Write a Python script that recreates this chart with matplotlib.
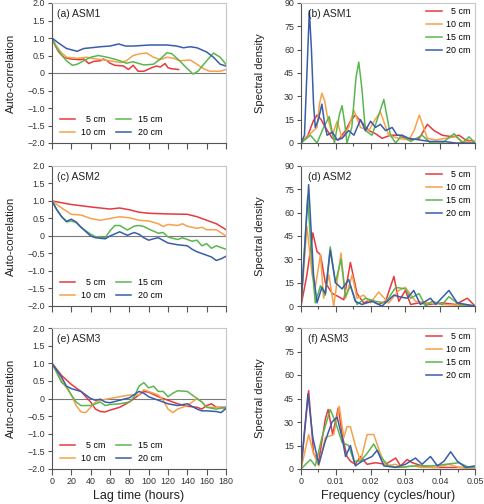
import numpy as np
import matplotlib.pyplot as plt
from matplotlib.ticker import MultipleLocator

plt.rcParams['font.family'] = ['Liberation Sans', 'DejaVu Sans']

depths = ['  5 cm', '10 cm', '15 cm', '20 cm']
colors = ['#e63a3f', '#f4a24c', '#5bb650', '#3a5dab']
sites = ['ASM1', 'ASM2', 'ASM3']

# ---- auto-correlation, ASM1 ----
a1_lag_5 = [0, 3, 7, 12, 19, 29, 33, 38, 43, 50, 53, 57, 60, 65, 74, 79, 84, 89, 95, 103, 108, 112, 117, 120, 124, 131]
a1_acf_5 = [1.0, 0.8, 0.6, 0.45, 0.4, 0.38, 0.4, 0.27, 0.33, 0.35, 0.4, 0.35, 0.28, 0.22, 0.2, 0.1, 0.22, 0.05, 0.05, 0.15, 0.2, 0.17, 0.27, 0.15, 0.12, 0.1]
a1_lag_10 = [0, 4, 9, 15, 26, 36, 46, 60, 71, 77, 84, 91, 98, 105, 112, 119, 126, 132, 143, 150, 157, 163, 174, 180]
a1_acf_10 = [1.0, 0.8, 0.6, 0.45, 0.42, 0.45, 0.4, 0.35, 0.3, 0.35, 0.5, 0.55, 0.57, 0.45, 0.38, 0.45, 0.42, 0.35, 0.37, 0.25, 0.12, 0.05, 0.05, 0.1]
a1_lag_15 = [0, 4, 9, 15, 21, 26, 33, 40, 48, 57, 67, 77, 84, 95, 105, 112, 119, 124, 132, 139, 146, 151, 160, 167, 174, 180]
a1_acf_15 = [1.0, 0.75, 0.55, 0.35, 0.22, 0.25, 0.35, 0.45, 0.5, 0.45, 0.38, 0.28, 0.32, 0.23, 0.25, 0.4, 0.58, 0.55, 0.35, 0.15, -0.03, 0.05, 0.35, 0.57, 0.45, 0.25]
a1_lag_20 = [0, 7, 15, 26, 33, 40, 50, 60, 69, 76, 84, 101, 119, 129, 136, 143, 150, 160, 167, 174, 180]
a1_acf_20 = [1.0, 0.85, 0.7, 0.62, 0.7, 0.72, 0.75, 0.77, 0.83, 0.77, 0.77, 0.8, 0.8, 0.77, 0.72, 0.75, 0.72, 0.6, 0.45, 0.25, 0.2]

# ---- auto-correlation, ASM2 ----
a2_lag_5 = [0, 20, 40, 60, 70, 80, 90, 100, 120, 140, 150, 160, 170, 180]
a2_acf_5 = [1.0, 0.9, 0.83, 0.77, 0.8, 0.75, 0.68, 0.65, 0.63, 0.62, 0.55, 0.45, 0.35, 0.18]
a2_lag_10 = [0, 10, 20, 30, 40, 50, 60, 70, 80, 90, 100, 110, 115, 120, 130, 135, 140, 150, 155, 160, 170, 180]
a2_acf_10 = [1.0, 0.8, 0.62, 0.6, 0.5, 0.45, 0.5, 0.55, 0.52, 0.45, 0.43, 0.35, 0.27, 0.33, 0.3, 0.35, 0.28, 0.22, 0.25, 0.18, 0.18, 0.0]
a2_lag_15 = [0, 5, 10, 15, 20, 25, 30, 40, 45, 55, 60, 65, 70, 78, 85, 90, 95, 100, 110, 115, 120, 130, 135, 140, 145, 150, 155, 160, 165, 170, 180]
a2_acf_15 = [1.0, 0.75, 0.55, 0.4, 0.43, 0.38, 0.25, 0.05, -0.02, -0.05, 0.15, 0.3, 0.3, 0.17, 0.28, 0.3, 0.27, 0.2, 0.08, 0.1, -0.03, -0.1, -0.05, -0.1, -0.15, -0.12, -0.28, -0.22, -0.35, -0.28, -0.38]
a2_lag_20 = [0, 5, 10, 15, 20, 25, 30, 40, 45, 55, 60, 70, 78, 85, 90, 95, 100, 105, 110, 120, 130, 140, 145, 150, 160, 165, 170, 175, 180]
a2_acf_20 = [1.0, 0.75, 0.55, 0.42, 0.48, 0.4, 0.25, 0.0, -0.05, -0.08, 0.0, 0.12, 0.02, 0.1, 0.05, -0.05, -0.12, -0.08, -0.05, -0.2, -0.25, -0.28, -0.38, -0.45, -0.55, -0.6, -0.7, -0.65, -0.58]

# ---- auto-correlation, ASM3 ----
a3_lag_5 = [0, 10, 20, 30, 40, 45, 50, 55, 60, 70, 80, 90, 95, 100, 110, 120, 130, 140, 150, 155, 160, 165, 170, 180]
a3_acf_5 = [1.0, 0.65, 0.4, 0.2, -0.1, -0.3, -0.37, -0.38, -0.33, -0.25, -0.1, 0.1, 0.2, 0.18, 0.05, -0.05, -0.15, -0.22, -0.25, -0.3, -0.2, -0.15, -0.25, -0.25]
a3_lag_10 = [0, 10, 20, 25, 30, 35, 40, 45, 50, 60, 70, 80, 90, 95, 100, 110, 115, 120, 125, 130, 140, 150, 155, 160, 170, 180]
a3_acf_10 = [1.0, 0.5, 0.1, -0.2, -0.38, -0.4, -0.25, -0.1, -0.05, 0.0, 0.05, 0.1, 0.1, 0.25, 0.2, 0.1, -0.05, -0.3, -0.4, -0.3, -0.2, 0.0, -0.1, -0.25, -0.25, -0.3]
a3_lag_15 = [0, 10, 15, 20, 25, 30, 40, 50, 55, 60, 70, 80, 85, 90, 95, 100, 105, 110, 115, 120, 125, 130, 140, 145, 150, 155, 160, 170, 180]
a3_acf_15 = [1.0, 0.45, 0.35, 0.1, -0.1, -0.2, -0.2, -0.1, -0.2, -0.17, -0.15, -0.1, 0.05, 0.35, 0.45, 0.3, 0.35, 0.2, 0.2, 0.05, 0.15, 0.22, 0.2, 0.1, 0.0, -0.1, -0.25, -0.3, -0.25]
a3_lag_20 = [0, 10, 15, 20, 30, 40, 45, 50, 55, 60, 70, 80, 90, 95, 100, 110, 120, 130, 140, 150, 155, 160, 170, 175, 180]
a3_acf_20 = [1.0, 0.6, 0.35, 0.28, 0.2, 0.0, -0.05, -0.02, -0.1, -0.12, -0.05, 0.02, 0.2, 0.15, 0.05, -0.05, -0.15, -0.2, -0.15, -0.3, -0.35, -0.35, -0.37, -0.4, -0.28]

# ---- spectral density, ASM1 ----
s1_f_5 = [0, 0.002, 0.0035, 0.0046, 0.0058, 0.007, 0.009, 0.0108, 0.0128, 0.0142, 0.0156, 0.0176, 0.0195, 0.0214, 0.0233, 0.0257, 0.028, 0.031, 0.034, 0.0363, 0.0382, 0.0406, 0.0435, 0.0454, 0.0473, 0.05]
s1_d_5 = [0, 5, 14, 18, 15, 10, 3, 2, 8, 14, 18, 13, 8, 6, 3, 5, 5, 2, 3, 12, 8, 5, 4, 5, 2, 1]
s1_f_10 = [0, 0.0022, 0.0046, 0.0053, 0.006, 0.0068, 0.0075, 0.009, 0.0104, 0.0118, 0.0137, 0.0152, 0.0171, 0.0195, 0.021, 0.0228, 0.0252, 0.028, 0.031, 0.0325, 0.034, 0.0363, 0.0387, 0.0415, 0.0444, 0.0464, 0.05]
s1_d_10 = [0, 5, 10, 25, 32, 27, 18, 5, 14, 3, 10, 21, 10, 8, 14, 20, 5, 3, 2, 8, 18, 3, 2, 3, 4, 1, 1]
s1_f_15 = [0, 0.0027, 0.0046, 0.0065, 0.0081, 0.0096, 0.011, 0.0118, 0.0126, 0.0132, 0.0146, 0.0158, 0.0166, 0.0175, 0.0185, 0.0204, 0.0219, 0.0238, 0.0257, 0.0272, 0.029, 0.0315, 0.0348, 0.0372, 0.0406, 0.044, 0.0464, 0.0483, 0.05]
s1_d_15 = [0, 5, 0, 10, 17, 0, 18, 24, 12, 0, 10, 42, 52, 35, 8, 5, 15, 28, 5, 0, 5, 1, 5, 0, 0, 6, 0, 4, 0]
s1_f_20 = [0, 0.001, 0.0017, 0.0024, 0.003, 0.0036, 0.0041, 0.005, 0.006, 0.0068, 0.0075, 0.009, 0.0104, 0.0118, 0.0137, 0.0152, 0.0171, 0.0185, 0.02, 0.0214, 0.0228, 0.0243, 0.0262, 0.0276, 0.029, 0.031, 0.034, 0.037, 0.041, 0.0444, 0.05]
s1_d_20 = [0, 5, 45, 85, 60, 25, 10, 15, 25, 12, 5, 7, 2, 3, 8, 5, 15, 8, 14, 10, 12, 8, 10, 5, 5, 3, 2, 1, 1, 0, 0]

# ---- spectral density, ASM2 ----
s2_f_5 = [0, 0.0017, 0.0034, 0.0046, 0.0056, 0.007, 0.009, 0.0108, 0.0123, 0.0142, 0.0161, 0.018, 0.02, 0.0223, 0.0243, 0.0267, 0.0281, 0.03, 0.0315, 0.0339, 0.0368, 0.0406, 0.0444, 0.0478, 0.05]
s2_d_5 = [0, 20, 47, 35, 33, 15, 8, 6, 4, 28, 8, 2, 4, 1, 3, 19, 3, 10, 1, 2, 1, 2, 1, 5, 0]
s2_f_10 = [0, 0.0017, 0.0032, 0.0041, 0.0056, 0.0065, 0.008, 0.0094, 0.0115, 0.0128, 0.0147, 0.0161, 0.018, 0.02, 0.0223, 0.0252, 0.0281, 0.03, 0.0329, 0.0368, 0.0406, 0.05]
s2_d_10 = [0, 51, 20, 12, 33, 5, 20, 0, 34, 5, 20, 5, 7, 2, 9, 2, 10, 12, 3, 2, 1, 0]
s2_f_15 = [0, 0.0019, 0.0034, 0.0041, 0.0056, 0.007, 0.0084, 0.0099, 0.0115, 0.0128, 0.0142, 0.0161, 0.0185, 0.0214, 0.0243, 0.0272, 0.03, 0.0315, 0.0339, 0.0358, 0.0377, 0.0406, 0.0425, 0.0454, 0.05]
s2_d_15 = [0, 70, 20, 2, 13, 7, 38, 15, 30, 6, 13, 1, 5, 3, 2, 12, 11, 5, 8, 0, 3, 1, 6, 1, 0]
s2_f_20 = [0, 0.0022, 0.0036, 0.0046, 0.006, 0.007, 0.0084, 0.0099, 0.0118, 0.0137, 0.0156, 0.0175, 0.0204, 0.0233, 0.0267, 0.0281, 0.0305, 0.0324, 0.0343, 0.0372, 0.0387, 0.0425, 0.0449, 0.05]
s2_d_20 = [0, 78, 20, 2, 12, 8, 36, 15, 11, 17, 3, 1, 3, 0, 7, 6, 5, 10, 1, 5, 1, 10, 2, 0]

# ---- spectral density, ASM3 ----
s3_f_5 = [0, 0.0022, 0.0036, 0.0051, 0.007, 0.0078, 0.0091, 0.0107, 0.012, 0.0132, 0.0142, 0.0156, 0.0171, 0.019, 0.0214, 0.0243, 0.0272, 0.0286, 0.0305, 0.032, 0.0348, 0.0377, 0.0416, 0.0454, 0.05]
s3_d_5 = [0, 50, 10, 5, 32, 38, 22, 39, 20, 8, 5, 3, 8, 3, 4, 3, 7, 2, 6, 4, 2, 1, 1, 1, 1]
s3_f_10 = [0, 0.0022, 0.0036, 0.0051, 0.007, 0.0094, 0.011, 0.0123, 0.0132, 0.0142, 0.0156, 0.0171, 0.019, 0.0209, 0.0228, 0.0243, 0.0272, 0.029, 0.032, 0.0348, 0.0387, 0.0425, 0.0454, 0.05]
s3_d_10 = [0, 22, 10, 2, 20, 22, 40, 20, 27, 27, 15, 5, 22, 22, 10, 2, 3, 1, 2, 1, 1, 3, 1, 0]
s3_f_15 = [0, 0.0027, 0.0041, 0.006, 0.0084, 0.0099, 0.0118, 0.0137, 0.0152, 0.0171, 0.019, 0.0209, 0.0228, 0.0252, 0.028, 0.0329, 0.0377, 0.0416, 0.0454, 0.0483, 0.05]
s3_d_15 = [0, 6, 2, 20, 38, 30, 17, 15, 5, 5, 10, 16, 8, 2, 1, 2, 2, 3, 4, 1, 1]
s3_f_20 = [0, 0.002, 0.0034, 0.0051, 0.007, 0.0089, 0.0104, 0.0118, 0.0128, 0.0142, 0.0156, 0.0176, 0.0204, 0.0219, 0.0238, 0.0272, 0.03, 0.0329, 0.0348, 0.0372, 0.0392, 0.0411, 0.043, 0.0449, 0.0473, 0.05]
s3_d_20 = [0, 48, 20, 3, 18, 30, 33, 20, 8, 15, 2, 5, 8, 12, 2, 1, 3, 7, 3, 8, 2, 5, 11, 5, 1, 2]

acf = [
    [(a1_lag_5, a1_acf_5), (a1_lag_10, a1_acf_10), (a1_lag_15, a1_acf_15), (a1_lag_20, a1_acf_20)],
    [(a2_lag_5, a2_acf_5), (a2_lag_10, a2_acf_10), (a2_lag_15, a2_acf_15), (a2_lag_20, a2_acf_20)],
    [(a3_lag_5, a3_acf_5), (a3_lag_10, a3_acf_10), (a3_lag_15, a3_acf_15), (a3_lag_20, a3_acf_20)],
]
spec = [
    [(s1_f_5, s1_d_5), (s1_f_10, s1_d_10), (s1_f_15, s1_d_15), (s1_f_20, s1_d_20)],
    [(s2_f_5, s2_d_5), (s2_f_10, s2_d_10), (s2_f_15, s2_d_15), (s2_f_20, s2_d_20)],
    [(s3_f_5, s3_d_5), (s3_f_10, s3_d_10), (s3_f_15, s3_d_15), (s3_f_20, s3_d_20)],
]

acf_ticks = [-2.0, -1.5, -1.0, -0.5, 0, 0.5, 1.0, 1.5, 2.0]
acf_ticklabels = ['\u22122.0', '\u22121.5', '\u22121.0', '\u22120.5', '0', '0.5', '1.0', '1.5', '2.0']
lag_ticks = list(range(0, 181, 20))
spec_ticks = [0, 15, 30, 45, 60, 75, 90]
freq_ticks = [0, 0.01, 0.02, 0.03, 0.04, 0.05]
freq_ticklabels = ['0', '0.01', '0.02', '0.03', '0.04', '0.05']

W, H = 484, 504
fig = plt.figure(figsize=(W / 100, H / 100), dpi=100)

tick_fs = 6.4
dark = '#555555'
light = '#c8c8c8'


def style(ax):
    for s in ['left', 'bottom']:
        ax.spines[s].set_color(dark)
        ax.spines[s].set_linewidth(0.8)
    for s in ['top', 'right']:
        ax.spines[s].set_color(light)
        ax.spines[s].set_linewidth(0.8)
    ax.tick_params(axis='both', direction='out', color=dark, width=0.8, labelsize=tick_fs,
                   labelcolor='#333333', pad=2)
    ax.tick_params(axis='y', length=3)
    ax.tick_params(axis='x', which='major', length=4)
    ax.tick_params(axis='x', which='minor', length=2.5, width=0.8, color=dark)


rows = [(3, 143), (166, 306), (328, 469)]
letters = 'abcdef'

for r, (top, bot) in enumerate(rows):
    # left: auto-correlation
    ax = fig.add_axes([52 / W, 1 - bot / H, 174 / W, (bot - top) / H])
    ax.axhline(0, color='#7a7a7a', lw=0.8, zorder=1)
    for k in range(4):
        x, y = acf[r][k]
        ax.plot(x, y, color=colors[k], lw=1.1, label=depths[k], zorder=2)
    ax.set_xlim(0, 180)
    ax.set_ylim(-2.0, 2.0)
    ax.set_yticks(acf_ticks)
    ax.set_yticklabels(acf_ticklabels)
    ax.set_xticks(lag_ticks)
    style(ax)
    if r < 2:
        ax.set_xticklabels([])
    else:
        ax.set_xlabel('Lag time (hours)', fontsize=9, color='#222222')
        ax.xaxis.set_label_coords(0.5, -0.15)
    ax.set_ylabel('Auto-correlation', fontsize=8, color='#222222')
    ax.yaxis.set_label_coords(-0.207, 0.5)
    ax.text(0.03, 0.92, '(%s) %s' % (letters[2 * r], sites[r]), transform=ax.transAxes,
            fontsize=7.5, color='#222222', va='center', ha='left')
    ax.legend(loc='lower left', ncol=2, frameon=False, fontsize=6.4, handlelength=1.7,
              handletextpad=0.7, columnspacing=1.2, labelspacing=0.45,
              bbox_to_anchor=(0.0, -0.014))

    # right: spectral density
    ax = fig.add_axes([301 / W, 1 - bot / H, 174 / W, (bot - top) / H])
    for k in range(4):
        x, y = spec[r][k]
        ax.plot(x, y, color=colors[k], lw=1.1, label=depths[k])
    ax.set_xlim(0, 0.05)
    ax.set_ylim(0, 90)
    ax.set_yticks(spec_ticks)
    ax.set_xticks(freq_ticks)
    ax.xaxis.set_minor_locator(MultipleLocator(0.005))
    style(ax)
    if r < 2:
        ax.set_xticklabels([])
    else:
        ax.set_xticklabels(freq_ticklabels)
        ax.set_xlabel('Frequency (cycles/hour)', fontsize=9, color='#222222')
        ax.xaxis.set_label_coords(0.5, -0.15)
    ax.set_ylabel('Spectral density', fontsize=8, color='#222222')
    ax.yaxis.set_label_coords(-0.207, 0.5)
    ax.text(0.04, 0.92, '(%s) %s' % (letters[2 * r + 1], sites[r]), transform=ax.transAxes,
            fontsize=7.5, color='#222222', va='center', ha='left')
    ax.legend(loc='upper right', frameon=False, fontsize=6.4, handlelength=1.8,
              handletextpad=0.5, labelspacing=0.45, borderaxespad=0.1)

fig.savefig('out.png', dpi=100)
